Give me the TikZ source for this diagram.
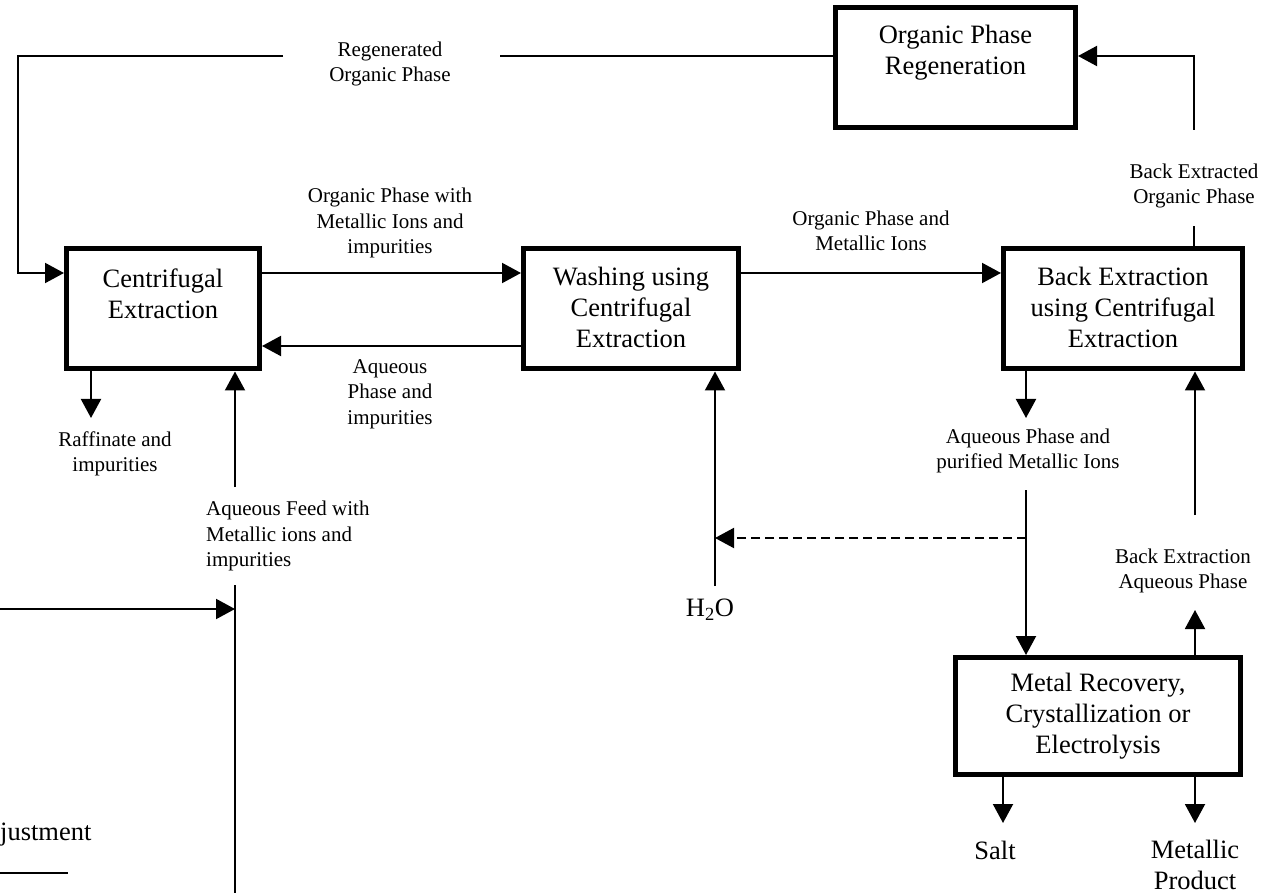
\documentclass[tikz,border=0pt]{standalone}
\usepackage{fontspec}
\setmainfont{Liberation Serif}
\usetikzlibrary{arrows.meta,calc}
\begin{document}
\begin{tikzpicture}[x=1pt,y=-1pt,
  proc/.style={draw, line width=5pt, minimum width=#1, minimum height=120pt, inner sep=0pt},
  bigtxt/.style={font=\fontsize{26.5}{31}\selectfont, align=center, inner sep=0pt},
  lbl/.style={font=\fontsize{21}{25.5}\selectfont, align=center, inner sep=0pt},
  flow/.style={line width=2pt, -{Triangle[length=19pt,width=20pt]}},
  plain/.style={line width=2pt},
  dashline/.style={dash pattern=on 9pt off 5pt}]
\useasboundingbox (0,0) rectangle (1270,893);
% boxes
\node[proc=193pt] (ce) at (163,309) {};
\node[proc=215pt] (wa) at (631,309) {};
\node[proc=239pt] (be) at (1123,309) {};
\node[proc=240pt] (or) at (955.5,67.5) {};
\node[proc=285pt, minimum height=117pt] (mr) at (1098,716) {};
% box texts
\node[bigtxt] (cet) at (163,293.5) {Centrifugal\\Extraction};
\node[bigtxt] (wat) at (631,307) {Washing using\\Centrifugal\\Extraction};
\node[bigtxt] (bet) at (1123,307.5) {Back Extraction\\using Centrifugal\\Extraction};
\node[bigtxt] (ort) at (955.5,53) {Organic Phase\\Regeneration};
\node[bigtxt] (mrt) at (1098,716) {Metal Recovery,\\Crystallization or\\Electrolysis};
% labels
\node[lbl] (l1) at (390,64) {Regenerated\\Organic Phase};
\node[lbl] (l2) at (390,223) {Organic Phase with\\Metallic Ions and\\impurities};
\node[lbl] (l3) at (390,394) {Aqueous\\Phase and\\impurities};
\node[lbl] (l4) at (115,454) {Raffinate and\\impurities};
\node[lbl, align=left, anchor=west] (l5) at (206,536) {Aqueous Feed with\\Metallic ions and\\impurities};
\node[lbl] (l6) at (871,231) {Organic Phase and\\Metallic Ions};
\node[lbl] (l7) at (1194,186) {Back Extracted\\Organic Phase};
\node[lbl] (l8) at (1028,451) {Aqueous Phase and\\purified Metallic Ions};
\node[lbl] (l9) at (1183,571) {Back Extraction\\Aqueous Phase};
\node[bigtxt] (h2o) at (710,610) {H\textsubscript{2}O};
\node[bigtxt] (salt) at (995,850) {Salt};
\node[bigtxt] (mp) at (1195,865) {Metallic\\Product};
\node[bigtxt, anchor=base west] (adj) at (0,840) {justment};
% coordinates
\coordinate (r1) at (500,56);
\coordinate (r2) at (283,56);
\coordinate (r3) at (18,56);
\coordinate (r4) at (18,273);
\coordinate (aq) at (0,346);
\coordinate (raf) at (91,418);
\coordinate (f1) at (235,487);
\coordinate (f2) at (235,585);
\coordinate (f3) at (235,893);
\coordinate (f4) at (0,609);
\coordinate (f5) at (235,609);
\coordinate (h1) at (715,586);
\coordinate (p1) at (1026,418);
\coordinate (p2) at (1026,490);
\coordinate (p3) at (1026,538);
\coordinate (p4) at (715,538);
\coordinate (b1) at (1195,515);
\coordinate (b2) at (1195,610);
\coordinate (s1) at (1003,823);
\coordinate (m1) at (1195,823);
\coordinate (o1) at (1194,226);
\coordinate (o2) at (1194,130);
\coordinate (o3) at (1194,56);
\coordinate (j1) at (0,873);
\coordinate (j2) at (68,873);
% connectors
\draw[plain] (or.west |- r1) -- (r1);
\draw[flow] (r2) -- (r3) -- (r4) -- (ce.west |- r4);
\draw[flow] (ce.east |- r4) -- (wa.west |- r4);
\draw[flow] (wa.west |- aq) -- (ce.east |- aq);
\draw[flow] (ce.south -| raf) -- (raf);
\draw[flow] (f1) -- (ce.south -| f1);
\draw[plain] (f2) -- (f3);
\draw[flow] (f4) -- (f5);
\draw[flow] (wa.east |- r4) -- (be.west |- r4);
\draw[flow] (h1) -- (wa.south -| h1);
\draw[flow] (be.south -| p1) -- (p1);
\draw[flow] (p2) -- (mr.north -| p2);
\draw[flow, dashline] (p3) -- (p4);
\draw[flow] (b1) -- (be.south -| b1);
\draw[flow] (mr.north -| b2) -- (b2);
\draw[flow] (mr.south -| s1) -- (s1);
\draw[flow] (mr.south -| m1) -- (m1);
\draw[plain] (be.north -| o1) -- (o1);
\draw[flow] (o2) -- (o3) -- (or.east |- o3);
\draw[plain] (j1) -- (j2);
\end{tikzpicture}
\end{document}
